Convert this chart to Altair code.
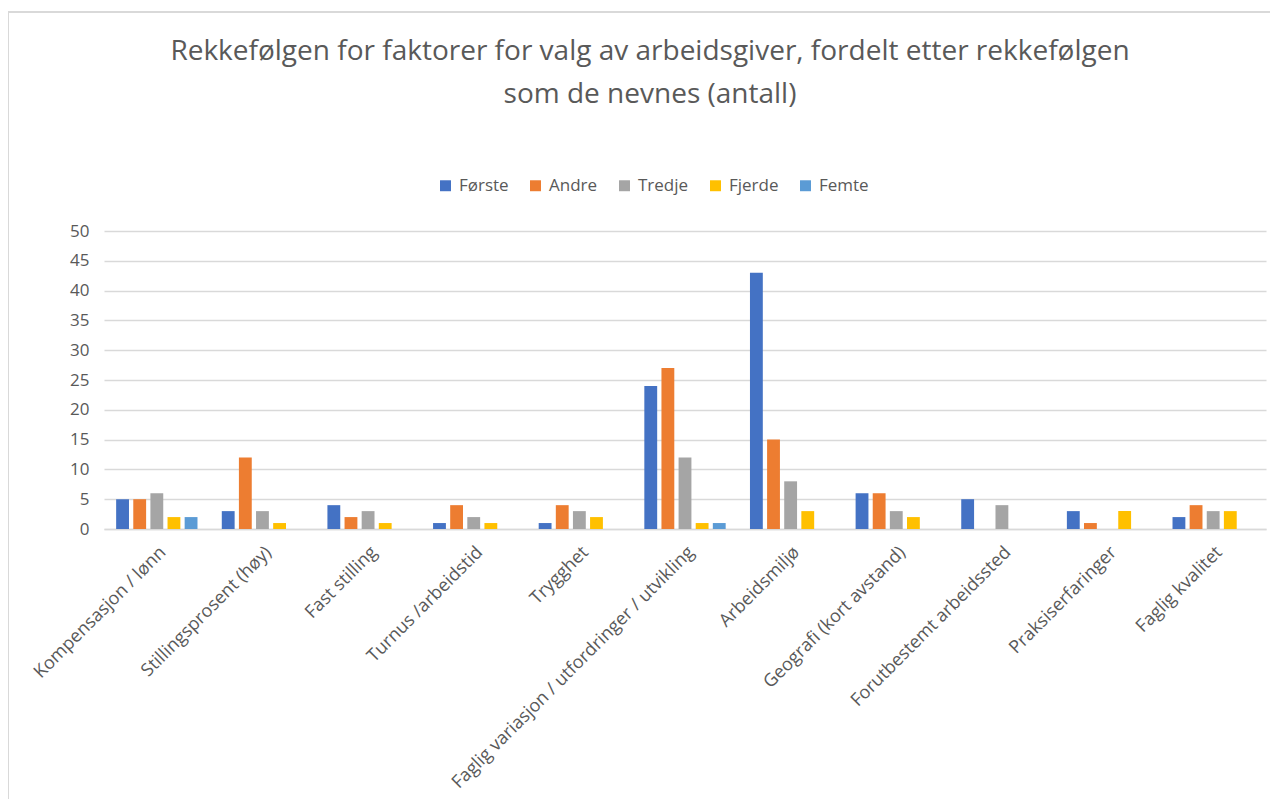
import altair as alt
import pandas as pd

categories = [
    "Kompensasjon / lønn",
    "Stillingsprosent (høy)",
    "Fast stilling",
    "Turnus /arbeidstid",
    "Trygghet",
    "Faglig variasjon / utfordringer / utvikling",
    "Arbeidsmiljø",
    "Geografi (kort avstand)",
    "Forutbestemt arbeidssted",
    "Praksiserfaringer",
    "Faglig kvalitet",
]
series = ["Første", "Andre", "Tredje", "Fjerde", "Femte"]
forste = [5, 3, 4, 1, 1, 24, 43, 6, 5, 3, 2]
andre = [5, 12, 2, 4, 4, 27, 15, 6, 0, 1, 4]
tredje = [6, 3, 3, 2, 3, 12, 8, 3, 4, 0, 3]
fjerde = [2, 1, 1, 1, 2, 1, 3, 2, 0, 3, 3]
femte = [2, 0, 0, 0, 0, 1, 0, 0, 0, 0, 0]
colors = ["#4472C4", "#ED7D31", "#A5A5A5", "#FFC000", "#5B9BD5"]

rows = []
for s, vals in zip(series, [forste, andre, tredje, fjerde, femte]):
    for c, v in zip(categories, vals):
        rows.append({"Faktor": c, "Rekkefølge": s, "Antall": v})
df = pd.DataFrame(rows)

FONT = "Open Sans"
GREY = "#595959"

bars = alt.Chart(df).mark_bar().encode(
    x=alt.X(
        "Faktor:N",
        sort=categories,
        title=None,
        scale=alt.Scale(paddingInner=0.23, paddingOuter=0.115),
        axis=alt.Axis(
            labelAngle=-45,
            labelAlign="right",
            labelBaseline="top",
            labelFontSize=18,
            labelColor=GREY,
            labelFont=FONT,
            ticks=False,
            domainColor="#D9D9D9",
            domainWidth=1.5,
            labelPadding=14,
            labelLimit=600,
        ),
    ),
    xOffset=alt.XOffset("Rekkefølge:N", sort=series, scale=alt.Scale(paddingInner=0.25)),
    y=alt.Y(
        "Antall:Q",
        title=None,
        scale=alt.Scale(domain=[0, 50]),
        axis=alt.Axis(
            values=list(range(0, 51, 5)),
            labelFontSize=17,
            labelColor=GREY,
            labelFont=FONT,
            ticks=False,
            domain=False,
            gridColor="#D9D9D9",
            gridWidth=1.5,
            labelPadding=15,
        ),
    ),
    color=alt.Color(
        "Rekkefølge:N",
        sort=series,
        scale=alt.Scale(domain=series, range=colors),
        legend=alt.Legend(
            title=None,
            orient="none",
            direction="horizontal",
            legendX=333,
            legendY=-54,
            symbolType="square",
            symbolSize=120,
            symbolStrokeWidth=0,
            labelFontSize=17,
            labelColor=GREY,
            labelFont=FONT,
            columnPadding=18,
            labelOffset=5,
        ),
    ),
)

border = alt.Chart(alt.Data(values=[{}])).mark_rect(
    filled=False, stroke="#D9D9D9", strokeWidth=2
).encode(
    x=alt.value(-96), x2=alt.value(1250), y=alt.value(-219), y2=alt.value(700)
)

chart = alt.layer(border, bars).properties(
    width=1162,
    height=298,
    title=alt.TitleParams(
        text=["Rekkefølgen for faktorer for valg av arbeidsgiver, fordelt etter rekkefølgen", "som de nevnes (antall)"],
        font=FONT,
        fontSize=28,
        fontWeight="normal",
        color=GREY,
        anchor="middle",
        dx=-35,
        lineHeight=43,
        offset=-98,
    ),
    autosize=alt.AutoSizeParams(type="none"),
    padding={"left": 96, "top": 223, "right": 4, "bottom": 270},
).configure(background="white").configure_view(strokeWidth=0)

chart.save("out.html", embed_options={"renderer": "svg", "actions": False})
